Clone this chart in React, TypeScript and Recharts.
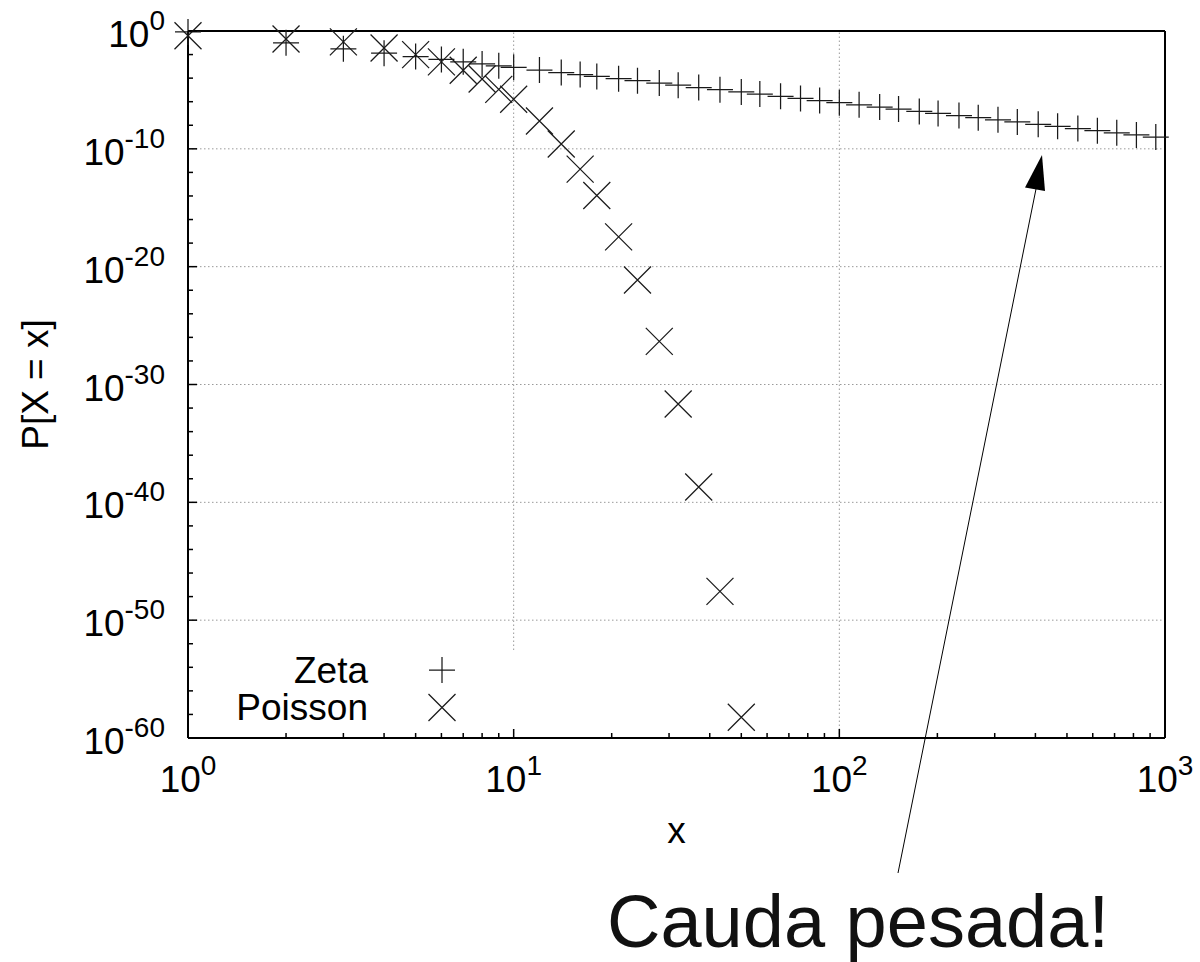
import React from 'react';
import { ComposedChart, Scatter, XAxis, YAxis, ReferenceLine, Legend } from 'recharts';

const FONT = '"Liberation Sans", Arial, Helvetica, sans-serif';

// Zeta distribution: sampled x values and P[X = x]
const zetaX = [1, 2, 3, 4, 5, 6, 7, 8, 9, 10, 12, 14, 16, 18, 21, 24, 28, 32, 37, 43, 50, 57, 66, 76, 87, 100,
  115, 133, 152, 176, 201, 233, 267, 307, 352, 408, 468, 540, 620, 711, 817, 937];
const zetaP = [0.83, 0.10, 0.031, 0.013, 0.0067, 0.0039, 0.0024, 0.0016, 0.0011, 8.3e-4, 4.8e-4, 3.0e-4, 2.0e-4,
  1.4e-4, 9.0e-5, 6.0e-5, 3.8e-5, 2.5e-5, 1.6e-5, 1.05e-5, 6.7e-6, 4.5e-6, 2.9e-6, 1.9e-6, 1.26e-6, 8.3e-7,
  5.5e-7, 3.5e-7, 2.4e-7, 1.5e-7, 1.0e-7, 6.6e-8, 4.4e-8, 2.9e-8, 1.9e-8, 1.2e-8, 8.1e-9, 5.3e-9, 3.5e-9,
  2.3e-9, 1.5e-9, 1.0e-9];

// Poisson distribution: sampled x values and P[X = x]
const poissonX = [1, 2, 3, 4, 5, 6, 7, 8, 9, 10, 12, 14, 16, 18, 21, 24, 28, 32, 37, 43, 50];
const poissonP = [0.40, 0.21, 0.12, 0.036, 0.0098, 0.0024, 4.7e-4, 8.5e-5, 1.1e-5, 1.6e-6, 2.3e-8, 2.6e-10,
  1.9e-12, 1.1e-14, 3.4e-18, 7.4e-22, 4.6e-27, 2.2e-32, 2.0e-39, 2.8e-48, 5.8e-59];

const seriesNames = ['Zeta', 'Poisson'];

// Axis ticks
const xMajorTicks = [1, 10, 100, 1000];
const xMinorTicks = [2, 3, 4, 5, 6, 7, 8, 9, 20, 30, 40, 50, 60, 70, 80, 90, 200, 300, 400, 500, 600, 700, 800, 900];
const yMajorTicks = [1, 1e-10, 1e-20, 1e-30, 1e-40, 1e-50, 1e-60];
const yMinorTicks = [1e-2, 1e-4, 1e-6, 1e-8, 1e-12, 1e-14, 1e-16, 1e-18, 1e-22, 1e-24, 1e-26, 1e-28,
  1e-32, 1e-34, 1e-36, 1e-38, 1e-42, 1e-44, 1e-46, 1e-48, 1e-52, 1e-54, 1e-56, 1e-58];
const xGridValues = [10, 100];
const yGridValues = [1e-10, 1e-20, 1e-30, 1e-40, 1e-50];

const zetaData = zetaX.map((x, i) => ({ x, p: zetaP[i] }));
const poissonData = poissonX.map((x, i) => ({ x, p: poissonP[i] }));

const xMajorSet = new Set(xMajorTicks);
const yMajorSet = new Set(yMajorTicks);
const allXTicks = [...xMajorTicks, ...xMinorTicks].sort((a, b) => a - b);
const allYTicks = [...yMajorTicks, ...yMinorTicks].sort((a, b) => a - b);

const MAJOR_LEN = 9;
const MINOR_LEN = 5;
const TICK_FS = 37;
const SUP_FS = 28;

const exponent = (v: number) => String(Math.round(Math.log10(v)));

const PowerLabel = ({ x, y, v, anchor }: { x: number; y: number; v: number; anchor: string }) => (
  <text x={x} y={y} textAnchor={anchor} fontFamily={FONT} fontSize={TICK_FS} fill="#000">
    <tspan>10</tspan>
    <tspan dy={-17} fontSize={SUP_FS}>{exponent(v)}</tspan>
  </text>
);

const BottomTick = (props: any) => {
  const { x, y, payload } = props;
  const major = xMajorSet.has(payload.value);
  return (
    <g>
      <line x1={x} y1={y} x2={x} y2={y - (major ? MAJOR_LEN : MINOR_LEN)} stroke="#000" strokeWidth={1.5} />
      {major && <PowerLabel x={x} y={y + 54} v={payload.value} anchor="middle" />}
    </g>
  );
};

const TopTick = (props: any) => {
  const { x, y, payload } = props;
  const major = xMajorSet.has(payload.value);
  return <line x1={x} y1={y} x2={x} y2={y + (major ? MAJOR_LEN : MINOR_LEN)} stroke="#000" strokeWidth={1.5} />;
};

const LeftTick = (props: any) => {
  const { x, y, payload } = props;
  const major = yMajorSet.has(payload.value);
  return (
    <g>
      <line x1={x} y1={y} x2={x + (major ? MAJOR_LEN : MINOR_LEN)} y2={y} stroke="#000" strokeWidth={1.5} />
      {major && <PowerLabel x={x - 23} y={y + 16} v={payload.value} anchor="end" />}
    </g>
  );
};

const RightTick = (props: any) => {
  const { x, y, payload } = props;
  const major = yMajorSet.has(payload.value);
  return <line x1={x} y1={y} x2={x - (major ? MAJOR_LEN : MINOR_LEN)} y2={y} stroke="#000" strokeWidth={1.5} />;
};

const MARK = '#1a1a1a';

const plusPath = (cx: number, cy: number, r: number) => `M${cx - r},${cy}H${cx + r}M${cx},${cy - r}V${cy + r}`;
const crossPath = (cx: number, cy: number, r: number) =>
  `M${cx - r},${cy - r}L${cx + r},${cy + r}M${cx - r},${cy + r}L${cx + r},${cy - r}`;

const PlusShape = (props: any) => (
  <path d={plusPath(props.cx, props.cy, 13)} stroke={MARK} strokeWidth={1.25} fill="none" />
);
const CrossShape = (props: any) => (
  <path d={crossPath(props.cx, props.cy, 13.5)} stroke={MARK} strokeWidth={1.25} fill="none" />
);

const KeyContent = (props: any) => {
  const entries = (props.payload || [])
    .filter((e: any) => seriesNames.includes(e.value))
    .sort((a: any, b: any) => seriesNames.indexOf(a.value) - seriesNames.indexOf(b.value));
  return (
    <div style={{ background: '#fff', width: 300, height: 79 }}>
      <svg width={300} height={79} style={{ display: 'block' }}>
        {entries.map((e: any, i: number) => {
          const cy = 20 + 37.5 * i;
          return (
            <g key={e.value}>
              <text x={148} y={33 + 37 * i} textAnchor="end" fontFamily={FONT} fontSize={TICK_FS} fill="#000">
                {e.value}
              </text>
              <path
                d={e.value === 'Zeta' ? plusPath(222, cy, 13) : crossPath(222, cy, 13.5)}
                stroke={MARK}
                strokeWidth={1.25}
                fill="none"
              />
            </g>
          );
        })}
      </svg>
    </div>
  );
};

const XTitle = (props: any) => {
  const vb = props.viewBox;
  return (
    <text x={vb.x + vb.width / 2} y={vb.y + 105} textAnchor="middle" fontFamily={FONT} fontSize={TICK_FS} fill="#000">
      x
    </text>
  );
};

const YTitle = (props: any) => {
  const vb = props.viewBox;
  const cx = vb.x + vb.width - 140;
  const cy = vb.y + vb.height / 2;
  return (
    <text
      x={cx}
      y={cy}
      transform={`rotate(-90 ${cx} ${cy})`}
      textAnchor="middle"
      fontFamily={FONT}
      fontSize={TICK_FS}
      fill="#000"
    >
      P[X = x]
    </text>
  );
};

const axisLineStyle = { stroke: '#000', strokeWidth: 2 };

export default function App() {
  return (
    <div style={{ position: 'absolute', left: 0, top: 0, width: 1200, height: 962, background: '#fff' }}>
      <ComposedChart width={1200} height={962} margin={{ top: 30, right: 34, bottom: 223, left: 187 }}>
        <XAxis
          dataKey="x"
          type="number"
          scale="log"
          domain={[1, 1000]}
          ticks={allXTicks}
          interval={0}
          height={1}
          tickSize={0}
          tickMargin={0}
          tickLine={false}
          tick={BottomTick}
          axisLine={axisLineStyle}
          label={{ content: XTitle }}
        />
        <XAxis
          xAxisId="top"
          orientation="top"
          dataKey="x"
          type="number"
          scale="log"
          domain={[1, 1000]}
          ticks={allXTicks}
          interval={0}
          height={1}
          tickSize={0}
          tickMargin={0}
          tickLine={false}
          tick={TopTick}
          axisLine={axisLineStyle}
        />
        <YAxis
          type="number"
          scale="log"
          domain={[1e-60, 1]}
          ticks={allYTicks}
          interval={0}
          width={1}
          tickSize={0}
          tickMargin={0}
          tickLine={false}
          tick={LeftTick}
          axisLine={axisLineStyle}
          label={{ content: YTitle }}
        />
        <YAxis
          yAxisId="right"
          orientation="right"
          type="number"
          scale="log"
          domain={[1e-60, 1]}
          ticks={allYTicks}
          interval={0}
          width={1}
          tickSize={0}
          tickMargin={0}
          tickLine={false}
          tick={RightTick}
          axisLine={axisLineStyle}
        />
        {xGridValues.map((v) => (
          <ReferenceLine key={'gx' + v} x={v} stroke="#9a9a9a" strokeWidth={1} strokeDasharray="1.5 2.5" />
        ))}
        {yGridValues.map((v) => (
          <ReferenceLine key={'gy' + v} y={v} stroke="#9a9a9a" strokeWidth={1} strokeDasharray="1.5 2.5" />
        ))}
        <Scatter name={seriesNames[0]} data={zetaData} dataKey="p" shape={PlusShape} isAnimationActive={false} />
        <Scatter name={seriesNames[1]} data={poissonData} dataKey="p" shape={CrossShape} isAnimationActive={false} />
        <Legend
          layout="vertical"
          align="center"
          verticalAlign="middle"
          wrapperStyle={{ left: 220, top: 650, width: 300, height: 79 }}
          content={KeyContent}
        />
      </ComposedChart>
      <svg
        width={1200}
        height={962}
        style={{ position: 'absolute', left: 0, top: 0, pointerEvents: 'none' }}
      >
        <line x1={898} y1={873} x2={1036} y2={189} stroke="#000" strokeWidth={1} />
        <polygon points="1042,155 1045,191 1025,187.5" fill="#000" />
        <text x={607} y={947} fontFamily={FONT} fontSize={74} fill="#111">
          Cauda pesada!
        </text>
      </svg>
    </div>
  );
}
